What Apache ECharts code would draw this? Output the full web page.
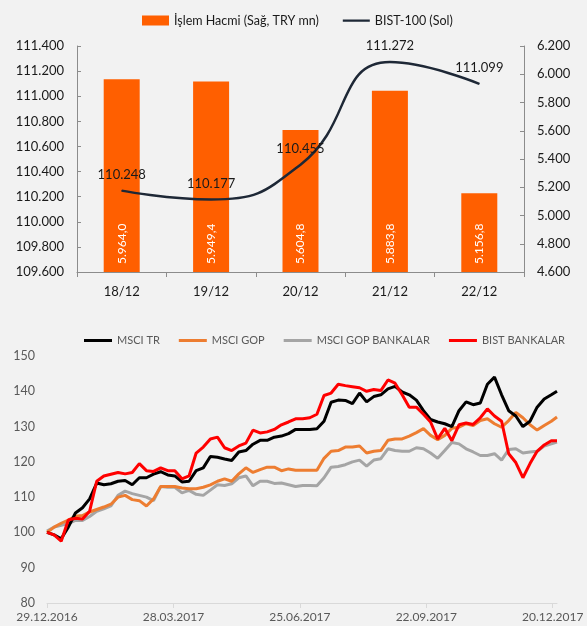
<!DOCTYPE html>
<html>
<head>
<meta charset="utf-8">
<script src="https://cdn.jsdelivr.net/npm/echarts@6/dist/echarts.min.js"></script>
<style>
    html, body { margin: 0; padding: 0; background: #F2F2F2; }
    #chart { width: 587px; height: 626px; }
</style>
</head>
<body>
<div id="chart"></div>
<script>
// ust grafik: gunluk islem hacmi ve BIST-100
var gunler = ["18/12", "19/12", "20/12", "21/12", "22/12"];
var islemHacmi = [5964.0, 5949.4, 5604.8, 5883.8, 5156.8];
var bist100 = [110248, 110177, 110455, 111272, 111099];

// alt grafik: 29.12.2016'dan itibaren gun sayisi
var gunSayisi = [0, 5, 10, 15, 20, 25, 30, 35, 40, 45, 50, 55, 60, 65, 70, 75, 80, 85, 90, 95,
    100, 105, 110, 115, 120, 125, 130, 135, 140, 145, 150, 155, 160, 165, 170, 175, 180, 185, 190, 195,
    200, 205, 210, 215, 220, 225, 230, 235, 240, 245, 250, 255, 260, 265, 270, 275, 280, 285, 290, 295,
    300, 305, 310, 315, 320, 325, 330, 335, 340, 345, 350, 355, 359];
var etiketGunleri = [0, 89, 178, 267, 356];

var msciTr = [100, 99.3, 98.2, 101.5, 105.5, 107, 109.5, 114, 113.5, 113.8,
    114.5, 114.7, 113.5, 115.5, 115.5, 116.5, 117.2, 116.3, 116, 114.3,
    114.5, 117.5, 118.3, 121.5, 121.3, 120.8, 120.4, 122.8, 123.2, 125,
    126.1, 126.1, 127, 127.3, 128, 129.2, 129.2, 129.2, 129.4, 131.5,
    136.9, 137.5, 137.4, 136.5, 139.5, 137, 138.5, 139, 140.7, 141.4,
    139.8, 139, 137.5, 134.5, 132, 131.3, 130.8, 130, 134.5, 137,
    136.2, 136.7, 142, 144, 139, 134.5, 133, 130, 131.5, 135.5,
    137.8, 139, 140];
var msciGop = [100, 101.5, 102.6, 103.5, 104.6, 104.8, 105.8, 106.5, 107.2, 108,
    110, 110.5, 109.3, 109, 107.5, 109.5, 113, 113, 113, 112.6,
    112.4, 112.4, 112.8, 113.5, 114.5, 115.2, 114.5, 116.6, 118.3, 117,
    117.8, 118.5, 118.5, 117.5, 118, 117.6, 117.6, 117.6, 117.6, 121,
    123, 123.2, 124.2, 124.2, 124.5, 122.5, 123, 123.2, 126.1, 126.5,
    126.5, 127.3, 128.3, 129.4, 127.5, 126.3, 127.5, 129.5, 129.8, 130.8,
    130.3, 131.7, 132.2, 130.8, 129.8, 131.7, 134, 132.5, 130.5, 129,
    130.3, 131.5, 132.7];
var msciGopBankalar = [100.4, 101.5, 102, 102.5, 103.4, 103.4, 104.5, 106, 106.7, 107.5,
    110.5, 111.7, 111, 110.5, 110, 109, 113, 112.8, 112.8, 111.2,
    111.9, 110.8, 110.5, 112, 113.5, 113.3, 113.8, 115.5, 116, 113.2,
    114.5, 114.5, 113.9, 114, 113.5, 113, 113.3, 113.3, 113.2, 115.5,
    118.5, 118.7, 119.2, 120, 120.5, 118.8, 120.5, 120.9, 123.7, 123.2,
    123, 123, 124, 123.7, 122.5, 121, 123.2, 125.5, 125.1, 123.7,
    122.8, 121.8, 121.8, 122.3, 120.5, 123.5, 123.7, 122.5, 122.8, 123,
    124.5, 125.1, 125.6];
var bistBankalar = [100, 99.3, 97.5, 103.5, 104, 103.8, 106, 114.5, 116, 116.5,
    117, 116.6, 117, 119.5, 117.5, 117.3, 118.3, 117.5, 117.5, 115.2,
    116, 122.5, 124.2, 126.5, 127, 124, 123.2, 124.5, 125.3, 129,
    128.2, 128.5, 129.2, 130.5, 131.3, 132.2, 132.2, 132.5, 133.5, 138.8,
    139.5, 142, 141.6, 141.3, 141, 140, 140.5, 140.2, 143.2, 142.3,
    139, 135.5, 135.5, 133.5, 131.3, 126.5, 129.5, 126, 130.5, 131,
    130.6, 132.5, 135, 133, 131.5, 122.3, 119.8, 115.5, 119.5, 123,
    124.8, 126, 126];

var font = "Lato";
// legend icin ince cizgi (ustte/altta bos nokta ile 10px yukseklik korunur)
var cizgiIkon = "path://M0,0L0.01,0Z M0,4L28,4L28,6.4L0,6.4Z M0,10L0.01,10Z";
var kalinCizgiIkon = "path://M0,0L0.01,0Z M0,3.4L28,3.4L28,6.6L0,6.6Z M0,10L0.01,10Z";

function trSayi(v, ondalik) {
    var s = Number(v).toFixed(ondalik || 0).split(".");
    var tam = s[0].replace(/\B(?=(\d{3})+(?!\d))/g, ".");
    return s.length > 1 ? tam + "," + s[1] : tam;
}

function tarihYaz(gun) {
    var d = new Date(Date.UTC(2016, 11, 29) + gun * 86400000);
    var gg = ("0" + d.getUTCDate()).slice(-2);
    var aa = ("0" + (d.getUTCMonth() + 1)).slice(-2);
    return gg + "." + aa + "." + d.getUTCFullYear();
}

function ciftler(degerler) {
    return gunSayisi.map(function(g, i) {
        return [g, degerler[i]];
    });
}

var myChart = echarts.init(document.getElementById("chart"));

var option = {
    backgroundColor: "#F2F2F2",
    textStyle: { fontFamily: font },
    animation: false,
    legend: [
        {
            top: 9,
            left: 137,
            itemWidth: 27,
            itemHeight: 10,
            itemGap: 24,
            textStyle: { fontSize: 12.5, color: "#1a1a1a", fontFamily: font },
            data: [
                { name: "İşlem Hacmi (Sağ, TRY mn)", icon: "rect" },
                { name: "BIST-100 (Sol)", icon: cizgiIkon }
            ]
        },
        {
            top: 330,
            left: 79,
            itemWidth: 28,
            itemHeight: 10,
            itemGap: 19,
            textStyle: { fontSize: 11, color: "#595959", fontFamily: font },
            data: [
                { name: "MSCI TR", icon: kalinCizgiIkon },
                { name: "MSCI GOP", icon: kalinCizgiIkon },
                { name: "MSCI GOP BANKALAR", icon: kalinCizgiIkon },
                { name: "BIST BANKALAR", icon: kalinCizgiIkon }
            ]
        }
    ],
    grid: [
        { left: 77, top: 46, width: 447, height: 226 },
        { left: 47, top: 356, width: 510, height: 247 }
    ],
    xAxis: [
        {
            gridIndex: 0,
            type: "category",
            data: gunler,
            axisLine: { lineStyle: { color: "#8C8C8C" } },
            axisTick: { show: true, length: 5, lineStyle: { color: "#8C8C8C" } },
            axisLabel: { color: "#1a1a1a", fontSize: 13, margin: 13 }
        },
        {
            gridIndex: 1,
            type: "value",
            min: 0,
            max: 359,
            splitLine: { show: false },
            axisLine: { lineStyle: { color: "#D9D9D9" } },
            axisTick: {
                show: true,
                length: 5,
                customValues: etiketGunleri,
                lineStyle: { color: "#D9D9D9" }
            },
            axisLabel: {
                color: "#595959",
                fontSize: 12,
                margin: 8,
                customValues: etiketGunleri,
                formatter: function(v) {
                    return tarihYaz(v);
                }
            }
        }
    ],
    yAxis: [
        {
            gridIndex: 0,
            type: "value",
            min: 109600,
            max: 111400,
            interval: 200,
            splitLine: { show: false },
            axisLine: { show: true, lineStyle: { color: "#8C8C8C" } },
            axisTick: { show: true, inside: true, length: 4, lineStyle: { color: "#8C8C8C" } },
            axisLabel: {
                color: "#1a1a1a",
                fontSize: 13,
                margin: 13,
                formatter: function(v) {
                    return trSayi(v);
                }
            }
        },
        {
            gridIndex: 0,
            type: "value",
            position: "right",
            min: 4600,
            max: 6200,
            interval: 200,
            splitLine: { show: false },
            axisLine: { show: true, lineStyle: { color: "#8C8C8C" } },
            axisTick: { show: true, inside: true, length: 4, lineStyle: { color: "#8C8C8C" } },
            axisLabel: {
                color: "#1a1a1a",
                fontSize: 13,
                margin: 13,
                formatter: function(v) {
                    return trSayi(v);
                }
            }
        },
        {
            gridIndex: 1,
            type: "value",
            min: 80,
            max: 150,
            interval: 10,
            splitLine: { show: false },
            axisLine: { show: false },
            axisTick: { show: false },
            axisLabel: { color: "#595959", fontSize: 12.5, margin: 12 }
        }
    ],
    series: [
        {
            name: "İşlem Hacmi (Sağ, TRY mn)",
            type: "bar",
            xAxisIndex: 0,
            yAxisIndex: 1,
            barWidth: 36,
            itemStyle: { color: "#FF5F00" },
            label: {
                show: true,
                position: "insideBottom",
                rotate: 90,
                align: "left",
                verticalAlign: "middle",
                distance: 8,
                color: "#FFFFFF",
                fontSize: 12,
                formatter: function(p) {
                    return trSayi(p.value, 1);
                }
            },
            data: islemHacmi
        },
        {
            name: "BIST-100 (Sol)",
            type: "line",
            xAxisIndex: 0,
            yAxisIndex: 0,
            smooth: 0.5,
            symbol: "circle",
            symbolSize: 1,
            showSymbol: true,
            itemStyle: { color: "#1E2836" },
            lineStyle: { color: "#1E2836", width: 2.5 },
            label: {
                show: true,
                position: "top",
                distance: 9,
                color: "#1a1a1a",
                fontSize: 13,
                formatter: function(p) {
                    return trSayi(p.value);
                }
            },
            data: bist100,
            z: 3
        },
        {
            name: "MSCI TR",
            type: "line",
            xAxisIndex: 1,
            yAxisIndex: 2,
            symbol: "none",
            lineStyle: { color: "#000000", width: 3 },
            itemStyle: { color: "#000000" },
            data: ciftler(msciTr),
            z: 4
        },
        {
            name: "MSCI GOP",
            type: "line",
            xAxisIndex: 1,
            yAxisIndex: 2,
            symbol: "none",
            lineStyle: { color: "#ED7D31", width: 3 },
            itemStyle: { color: "#ED7D31" },
            data: ciftler(msciGop),
            z: 3
        },
        {
            name: "MSCI GOP BANKALAR",
            type: "line",
            xAxisIndex: 1,
            yAxisIndex: 2,
            symbol: "none",
            lineStyle: { color: "#A5A5A5", width: 3 },
            itemStyle: { color: "#A5A5A5" },
            data: ciftler(msciGopBankalar),
            z: 2
        },
        {
            name: "BIST BANKALAR",
            type: "line",
            xAxisIndex: 1,
            yAxisIndex: 2,
            symbol: "none",
            lineStyle: { color: "#FF0000", width: 3 },
            itemStyle: { color: "#FF0000" },
            data: ciftler(bistBankalar),
            z: 5
        }
    ]
};

myChart.setOption(option);
window.addEventListener("resize", myChart.resize);
</script>
</body>
</html>
